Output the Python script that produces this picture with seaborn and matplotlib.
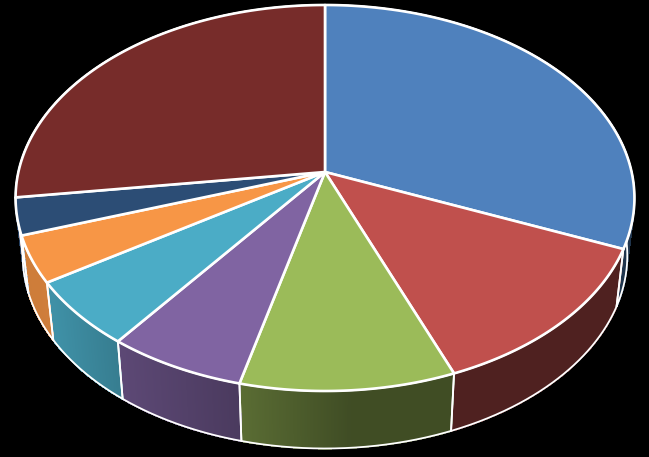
import numpy as np
import matplotlib
matplotlib.use("Agg")
import matplotlib.pyplot as plt
import seaborn as sns
from matplotlib.collections import PolyCollection
from matplotlib.colors import to_rgb

# =========================================================
# DATA
# =========================================================

shares = [31.3, 12.7, 9.9, 6.4, 5.6, 3.9, 3.1, 27.1]
slice_colors = [
    "#4f81bd", "#c0504d", "#9bbb59", "#8064a2",
    "#4bacc6", "#f79646", "#2c4d75", "#772c2a",
]

# =========================================================
# PROJECTION OF THE 3D DISC
# =========================================================

APEX_X, APEX_Y = 325, 172
WIDTH, HEIGHT = 306.6, 189.5
TILT = 0.1347
DEPTH = 57.5
SHRINK = 0.977

# wall brightness falls off from left to right
SHADE_X = [20, 50, 120, 240, 350, 640]
SHADE_K = [0.83, 0.84, 0.72, 0.58, 0.41, 0.41]


def project(theta):
    """
    Map clockwise angles from 12 o'clock onto the tilted top ellipse.
    """
    sx, cy = np.sin(theta), np.cos(theta)
    w = 1 + TILT * cy
    return WIDTH * sx / w, HEIGHT * cy / w


def draw_wall(ax, t0, t1, color):
    ts = np.linspace(t0, t1, max(int((t1 - t0) * 300), 8))
    dx, dy = project(ts)
    top = np.column_stack([APEX_X + dx, APEX_Y - dy])
    bottom = np.column_stack([APEX_X + SHRINK * dx, APEX_Y - dy + DEPTH])

    strips = [
        [top[i], top[i + 1], bottom[i + 1], bottom[i]]
        for i in range(len(ts) - 1)
    ]
    shade = np.interp((top[:-1, 0] + top[1:, 0]) / 2, SHADE_X, SHADE_K)
    colors = [tuple(np.array(to_rgb(color)) * s) for s in shade]
    ax.add_collection(
        PolyCollection(
            strips,
            facecolors=colors,
            edgecolors=colors,
            linewidths=0.8,
            antialiaseds=False,
            zorder=1,
        )
    )

    outline = np.vstack([top, bottom[::-1], top[:1]])
    ax.plot(
        outline[:, 0],
        outline[:, 1],
        color="white",
        lw=1.3,
        solid_joinstyle="round",
        zorder=2,
    )


def draw_top(ax, t0, t1, color):
    ts = np.linspace(t0, t1, max(int((t1 - t0) * 90), 4))
    dx, dy = project(ts)
    xs = np.concatenate([[APEX_X], APEX_X + dx])
    ys = np.concatenate([[APEX_Y], APEX_Y - dy])
    ax.fill(
        xs,
        ys,
        facecolor=color,
        edgecolor="white",
        lw=1.9,
        joinstyle="round",
        zorder=3,
    )


# =========================================================
# FIGURE
# =========================================================

sns.set_theme(style="dark", rc={"figure.facecolor": "black", "axes.facecolor": "black"})
palette = sns.color_palette(slice_colors)

fig = plt.figure(figsize=(6.49, 4.57), dpi=100)
ax = fig.add_axes([0, 0, 1, 1])
ax.set_xlim(0, 649)
ax.set_ylim(457, 0)
ax.axis("off")

edges = np.cumsum([0] + shares) / sum(shares) * 2 * np.pi

for i, color in enumerate(palette):
    draw_wall(ax, edges[i], edges[i + 1], color)

for i, color in enumerate(palette):
    draw_top(ax, edges[i], edges[i + 1], color)

fig.savefig("out.png", dpi=100, facecolor="black")
